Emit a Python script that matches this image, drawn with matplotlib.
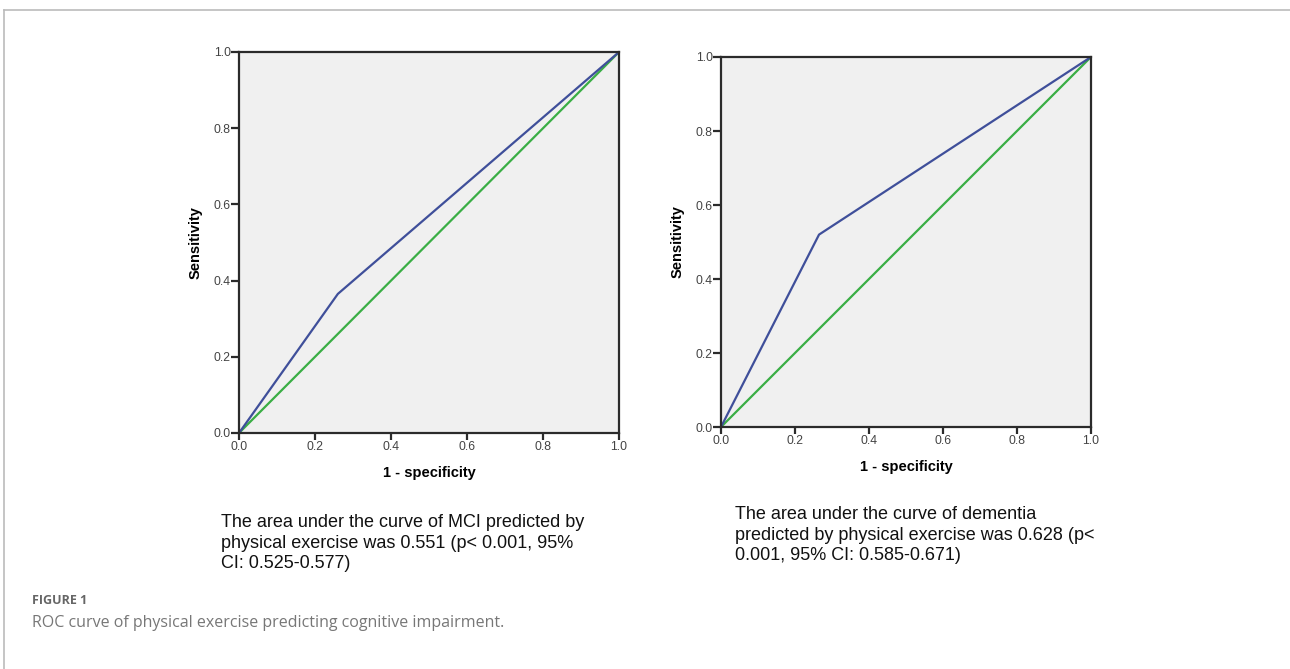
import matplotlib.pyplot as plt
from matplotlib.lines import Line2D

# ROC points
mci_fpr = [0.0, 0.26, 1.0]
mci_tpr = [0.0, 0.365, 1.0]
dem_fpr = [0.0, 0.265, 1.0]
dem_tpr = [0.0, 0.52, 1.0]
ref_line = [0.0, 1.0]
tick_vals = [0.0, 0.2, 0.4, 0.6, 0.8, 1.0]

captions = [
    "The area under the curve of MCI predicted by\nphysical exercise was 0.551 (p< 0.001, 95%\nCI: 0.525-0.577)",
    "The area under the curve of dementia\npredicted by physical exercise was 0.628 (p<\n0.001, 95% CI: 0.585-0.671)",
]

plt.rcParams['font.family'] = ['Liberation Sans', 'DejaVu Sans']

fig = plt.figure(figsize=(12.9, 6.69), dpi=100)

panels = [
    ([0.1853, 0.3528, 0.2946, 0.5695], mci_fpr, mci_tpr),
    ([0.5589, 0.3617, 0.2868, 0.5531], dem_fpr, dem_tpr),
]

for rect, fpr, tpr in panels:
    ax = fig.add_axes(rect)
    ax.set_facecolor('#f0f0f0')
    ax.plot(ref_line, ref_line, color='#3aae45', lw=1.6, solid_capstyle='butt')
    ax.plot(fpr, tpr, color='#3f4f9a', lw=1.6)
    ax.set_xlim(0, 1)
    ax.set_ylim(0, 1)
    ax.set_xticks(tick_vals)
    ax.set_yticks(tick_vals)
    ax.set_xticklabels([f"{v:.1f}" for v in tick_vals])
    ax.set_yticklabels([f"{v:.1f}" for v in tick_vals])
    for s in ax.spines.values():
        s.set_color('#2b2b2b')
        s.set_linewidth(1.6)
    ax.tick_params(axis='y', direction='out', length=6, width=1.6, color='#2b2b2b',
                   labelsize=8.8, labelcolor='#444444', pad=0)
    ax.tick_params(axis='x', direction='out', length=5, width=1.6, color='#2b2b2b',
                   labelsize=8.8, labelcolor='#444444', pad=1)
    ax.set_xlabel("1 - specificity", fontsize=10.5, fontweight='bold', labelpad=9)
    ax.set_ylabel("Sensitivity", fontsize=10.5, fontweight='bold', labelpad=8)

# captions under each panel
fig.text(221 / 1290, 1 - 514 / 669, captions[0], fontsize=13, va='top', ha='left',
         linespacing=1.28, color='#111111')
fig.text(735 / 1290, 1 - 506 / 669, captions[1], fontsize=13, va='top', ha='left',
         linespacing=1.28, color='#111111')

# page frame lines
fig.add_artist(Line2D([4 / 1290, 1.0], [1 - 10 / 669, 1 - 10 / 669], color='#bbbbbb', lw=1.2))
fig.add_artist(Line2D([4 / 1290, 4 / 1290], [0.0, 1 - 10 / 669], color='#bbbbbb', lw=1.2))

fig.text(32 / 1290, 1 - 600 / 669, "FIGURE 1", fontsize=9, fontweight='bold',
         color='#666666', family=['Open Sans', 'DejaVu Sans'], va='center')
fig.text(32 / 1290, 1 - 623 / 669, "ROC curve of physical exercise predicting cognitive impairment.",
         fontsize=11.5, color='#777777', family=['Open Sans', 'DejaVu Sans'], va='center')

fig.savefig('out.png', dpi=100)
